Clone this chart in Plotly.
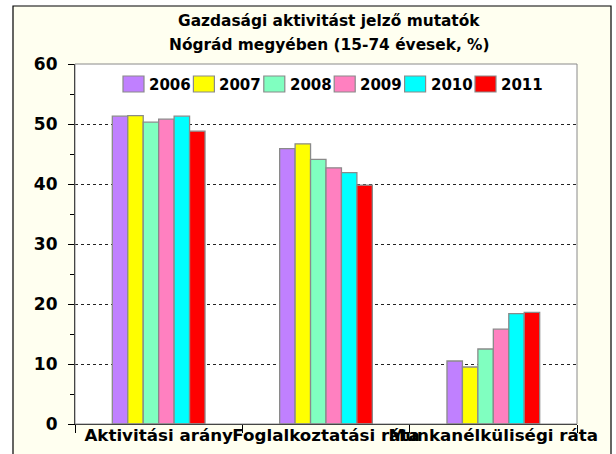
import plotly.graph_objects as go

# Indicator categories and survey years
categories = ["Aktivitási arány", "Foglalkoztatási ráta", "Munkanélküliségi ráta"]
years = ["2006", "2007", "2008", "2009", "2010", "2011"]

# Values per year (%), in category order
v2006 = [51.3, 45.9, 10.5]
v2007 = [51.4, 46.7, 9.5]
v2008 = [50.3, 44.1, 12.5]
v2009 = [50.8, 42.7, 15.8]
v2010 = [51.3, 41.9, 18.4]
v2011 = [48.8, 39.8, 18.6]
series = [v2006, v2007, v2008, v2009, v2010, v2011]

colors = ["#C080FF", "#FFFF00", "#80FFC0", "#FF80C0", "#00FFFF", "#FF0000"]

FONT = "DejaVu Sans, Liberation Sans, Arial, sans-serif"
W, H = 616, 454
ML, MR, MT, MB = 75, 39, 64, 30
PW, PH = W - ML - MR, H - MT - MB


def px(x):
    return (x - ML) / PW


def py(y):
    return (H - MB - y) / PH


fig = go.Figure()
for name, vals, col in zip(years, series, colors):
    fig.add_trace(go.Bar(
        x=categories, y=vals, name=name,
        marker=dict(color=col, line=dict(color="#8a8a8a", width=1.3)),
        showlegend=False,
    ))

shapes = []
annotations = []

# outer frame: white outside, ivory inside with a black border
shapes.append(dict(type="rect", xref="paper", yref="paper",
                   x0=px(13), x1=px(611), y0=py(470), y1=py(6),
                   line=dict(color="black", width=1.2), fillcolor="rgba(0,0,0,0)",
                   layer="above"))
for (a, b, c, d) in [(0, 13, 0, H), (0, W, 0, 6), (611, W, 0, H)]:
    shapes.append(dict(type="rect", xref="paper", yref="paper",
                       x0=px(a), x1=px(b), y0=py(d), y1=py(c),
                       line=dict(width=0), fillcolor="white", layer="below"))

# plot box (gray top and right edges)
shapes.append(dict(type="rect", xref="paper", yref="paper", x0=0, x1=1, y0=0, y1=1,
                   line=dict(color="#8a8a8a", width=1), fillcolor="rgba(0,0,0,0)",
                   layer="above"))

# legend row inside the plot area
pitch = 70.4
for i, (name, col) in enumerate(zip(years, colors)):
    left = 123 + i * pitch
    shapes.append(dict(type="rect", xref="paper", yref="paper",
                       x0=px(left), x1=px(left + 21), y0=py(92), y1=py(76),
                       line=dict(color="#8a8a8a", width=1.2), fillcolor=col,
                       layer="above"))
    annotations.append(dict(xref="paper", yref="paper", x=px(left + 24), y=py(84.5),
                            xanchor="left", yanchor="middle", showarrow=False,
                            text="<b>%s</b>" % name,
                            font=dict(family=FONT, size=15, color="black")))

# two-line title
for txt, yy in [("Gazdasági aktivitást jelző mutatók", 21),
                ("Nógrád megyében (15-74 évesek, %)", 45)]:
    annotations.append(dict(xref="paper", yref="paper", x=px(329), y=py(yy),
                            xanchor="center", yanchor="middle", showarrow=False,
                            text="<b>%s</b>" % txt,
                            font=dict(family=FONT, size=15.4, color="black")))

fig.update_layout(
    width=W, height=H,
    margin=dict(l=ML, r=MR, t=MT, b=MB, pad=0, autoexpand=False),
    paper_bgcolor="#FFFFF0",
    plot_bgcolor="white",
    barmode="group", bargap=0.446, bargroupgap=0,
    font=dict(family=FONT, size=16, color="black"),
    shapes=shapes, annotations=annotations,
    showlegend=False,
)
fig.update_xaxes(
    showline=True, linecolor="black", linewidth=1.2,
    ticks="outside", ticklen=8, tickcolor="black", tickson="boundaries",
    tickfont=dict(family=FONT, size=16.7, color="black", weight="bold"),
    tickangle=0, automargin=False,
    ticklabelstandoff=-4,
    showgrid=False,
)
fig.update_yaxes(
    range=[0, 60], dtick=10, tick0=0,
    showline=True, linecolor="black", linewidth=1.2,
    ticks="outside", ticklen=6, tickcolor="black",
    tickfont=dict(family=FONT, size=17, color="black", weight="bold"),
    ticklabelstandoff=7, automargin=False,
    showgrid=True, gridcolor="#222222", gridwidth=1, griddash="dot",
    zeroline=False,
    minor=dict(dtick=5, ticks="outside", ticklen=4, tickcolor="black", showgrid=False),
)

fig.write_html("out.html")
